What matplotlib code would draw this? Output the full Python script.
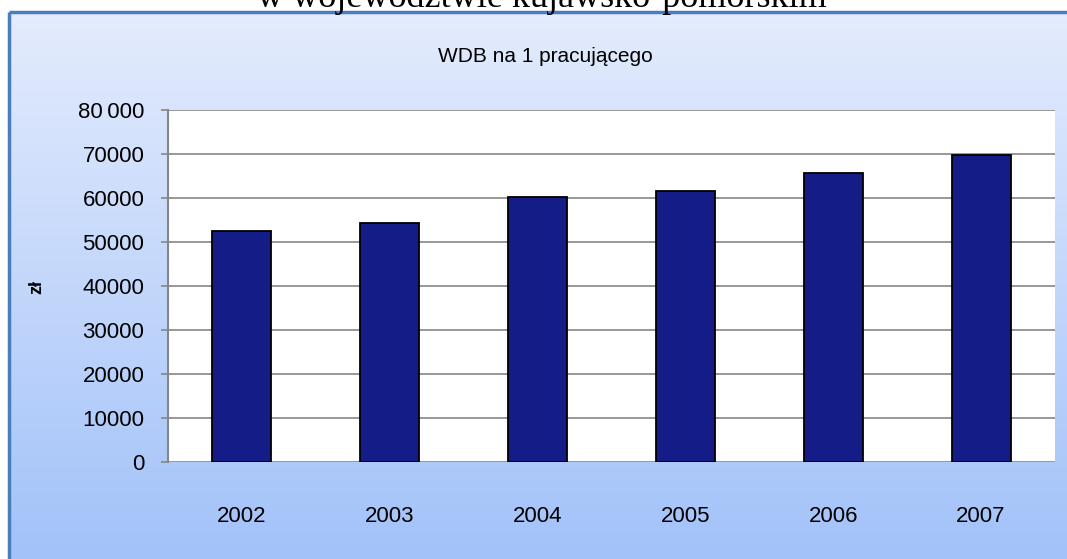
import numpy as np
import matplotlib.pyplot as plt

plt.rcParams['font.family'] = ['Liberation Sans', 'DejaVu Sans']

# dane
years = ['2002', '2003', '2004', '2005', '2006', '2007']
wdb = [52600, 54400, 60200, 61700, 65600, 69800]
y_ticks = [0, 10000, 20000, 30000, 40000, 50000, 60000, 70000, 80000]
y_labels = ['0', '10000', '20000', '30000', '40000', '50000', '60000', '70000', '80\u2009000']

W, H = 1067, 559
fig = plt.figure(figsize=(W / 100, H / 100), dpi=100)

# tlo z gradientem
bg = fig.add_axes([0, 0, 1, 1])
bg.set_xlim(0, W)
bg.set_ylim(H, 0)
bg.axis('off')
top = np.array([228, 236, 253]) / 255
bot = np.array([162, 194, 249]) / 255
t = np.linspace(0, 1, 256)[:, None, None]
grad = top * (1 - t) + bot * t
grad = np.repeat(grad, 2, axis=1)
bg.imshow(grad, extent=[9, W, H, 12], aspect='auto', zorder=0)
bg.plot([9, W], [12, 12], color='#4a7ebb', lw=2.5, solid_capstyle='butt')
bg.plot([9, 9], [12, H], color='#4a7ebb', lw=2.5, solid_capstyle='butt')

# wykres
ax = fig.add_axes([168 / W, (H - 462) / H, 887 / W, 352 / H])
ax.set_facecolor('white')
x = np.arange(len(years))
ax.bar(x, wdb, width=0.4, color='#141c87', edgecolor='black', linewidth=1.3, zorder=3)
ax.set_xlim(-0.5, len(years) - 0.5)
ax.set_ylim(0, 80000)
ax.set_yticks(y_ticks)
ax.set_yticklabels(y_labels, fontsize=16)
ax.set_xticks(x)
ax.set_xticklabels(years, fontsize=16)
ax.yaxis.grid(True, color='#868686', lw=1.2, zorder=0)
ax.set_axisbelow(True)
for s in ['top', 'right', 'bottom']:
    ax.spines[s].set_visible(False)
ax.spines['left'].set_color('#868686')
ax.spines['left'].set_linewidth(1.5)
ax.tick_params(axis='y', length=5, width=1.2, color='#868686', pad=12)
ax.tick_params(axis='x', length=0, pad=32)

fig.text(37 / W, 1 - 287 / H, 'zł', rotation=90, ha='center', va='center',
         fontsize=13, fontweight='bold')
fig.text(545 / W, 1 - 57 / H, 'WDB na 1 pracującego', ha='center', va='center', fontsize=15)
fig.text(542 / W, 1 - 7 / H, 'w województwie kujawsko-pomorskim', ha='center', va='baseline',
         fontsize=26, family='Liberation Serif')

fig.savefig('out.png', dpi=100)
